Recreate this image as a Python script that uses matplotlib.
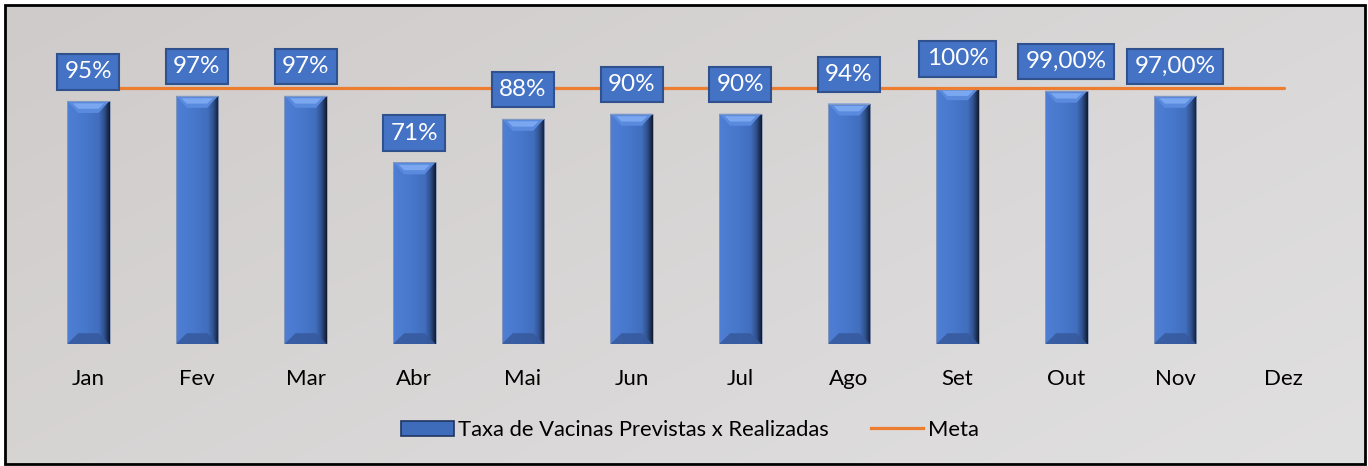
"""Monthly vaccination rate (planned vs. done) against the 100% target."""
import numpy as np
import matplotlib

matplotlib.use("Agg")
import matplotlib.pyplot as plt
from matplotlib.colors import LinearSegmentedColormap
from matplotlib.patches import Polygon, Rectangle
from matplotlib.lines import Line2D

plt.rcParams["font.family"] = ["Lato", "DejaVu Sans"]

months = ["Jan", "Fev", "Mar", "Abr", "Mai", "Jun", "Jul", "Ago", "Set", "Out", "Nov", "Dez"]
taxa = [0.95, 0.97, 0.97, 0.71, 0.88, 0.90, 0.90, 0.94, 1.00, 0.99, 0.97, np.nan]
rotulos = ["95%", "97%", "97%", "71%", "88%", "90%", "90%", "94%", "100%", "99,00%", "97,00%", ""]
meta = [1.0] * 12

BLUE = "#4472C4"
BLUE_EDGE = "#2F528F"
ORANGE = "#ED7D31"

W, H, DPI = 1368, 466, 100
fig = plt.figure(figsize=(W / DPI, H / DPI), dpi=DPI)

# diagonal grey gradient background inside a black frame
bg = fig.add_axes([0, 0, 1, 1], zorder=-2)
bg.set_xlim(0, W)
bg.set_ylim(H, 0)
bg.axis("off")
gx, gy = np.meshgrid(np.linspace(0, 1, 200), np.linspace(0, 1, 80))
t = (gx * 0.6 + gy * 0.4)
c0 = np.array([207, 203, 202]) / 255
c1 = np.array([225, 224, 225]) / 255
img = c0[None, None, :] * (1 - t[..., None]) + c1[None, None, :] * t[..., None]
bg.imshow(img, extent=(5, 1365, 464, 5), aspect="auto", interpolation="bilinear")
bg.add_patch(Rectangle((5, 5), 1360, 459, fill=False, ec="black", lw=2))

ax_l, ax_b = 34 / W, (H - 344) / H
ax_w, ax_h = 1304 / W, 307 / H
ax = fig.add_axes([ax_l, ax_b, ax_w, ax_h])
ax.patch.set_alpha(0)
x = np.arange(len(months))
ax.set_xlim(-0.5, len(months) - 0.5)
ax.set_ylim(0, 1.2)
for s in ax.spines.values():
    s.set_visible(False)
ax.set_yticks([])
ax.set_xticks(x)
ax.set_xticklabels(months, fontsize=16)
ax.tick_params(axis="x", length=0, pad=18)

bars = ax.bar(x, taxa, width=0.39, color=BLUE, zorder=2, lw=0)

# bevel shading for every bar
px_x = 1304 / 12.0          # pixels per category
px_y = 307 / 1.2            # pixels per unit
dx, dy = 11 / px_x, 12 / px_y
body = LinearSegmentedColormap.from_list(
    "body", [(0, "#4E7FD4"), (0.45, "#4777CB"), (0.75, "#416DBC"), (0.87, "#30528F"),
             (0.95, "#1E3258"), (1, "#111B30")])
for b in bars:
    h = b.get_height()
    if not np.isfinite(h):
        continue
    x0, x1 = b.get_x(), b.get_x() + b.get_width()
    im = ax.imshow(np.linspace(0, 1, 64)[None, :], cmap=body, extent=(x0, x1, 0, h),
                   aspect="auto", zorder=2.1, interpolation="bilinear")
    im.set_clip_path(b)
    ax.add_patch(Polygon([(x0, h), (x1, h), (x1 - dx, h - dy), (x0 + dx, h - dy)],
                         closed=True, fc="#5A8ADD", ec="none", zorder=2.2))
    ax.add_patch(Polygon([(x0 + dx * 0.5, h - dy * 0.2), (x1 - dx * 0.5, h - dy * 0.2),
                          (x1 - dx * 1.0, h - dy * 0.65), (x0 + dx * 1.0, h - dy * 0.65)],
                         closed=True, fc="#7AA7F0", ec="none", zorder=2.25))
    ax.add_patch(Polygon([(x0, 0), (x1, 0), (x1 - dx, dy * 0.9), (x0 + dx, dy * 0.9)],
                         closed=True, fc="#36599C", ec="none", alpha=0.85, zorder=2.2))
    ax.add_patch(Rectangle((x0, 0), x1 - x0, h, fill=False, ec="#8C9BB8", lw=0.6, zorder=2.4))

ax.plot(x, meta, color=ORANGE, lw=2.3, zorder=3, solid_capstyle="round")

for xi, v, lab in zip(x, taxa, rotulos):
    if not np.isfinite(v):
        continue
    ax.annotate(lab, (xi, v), xytext=(0, 21), textcoords="offset points",
                ha="center", va="center", color="white", fontsize=17.5, zorder=5,
                bbox=dict(boxstyle="square,pad=0.3", fc=BLUE, ec=BLUE_EDGE, lw=1.5))

handles = [Rectangle((0, 0), 1, 1, fc="#3F6BBB", ec="#1F3560", lw=1.2),
           Line2D([], [], color=ORANGE, lw=2.3)]
fig.legend(handles, ["Taxa de Vacinas Previstas x Realizadas", "Meta"],
           loc="center", bbox_to_anchor=(690 / W, 1 - 430 / H), ncol=2, frameon=False,
           fontsize=15.8, handlelength=2.4, handleheight=0.7, handletextpad=0.2,
           columnspacing=1.9)

fig.savefig("out.png", dpi=DPI)
